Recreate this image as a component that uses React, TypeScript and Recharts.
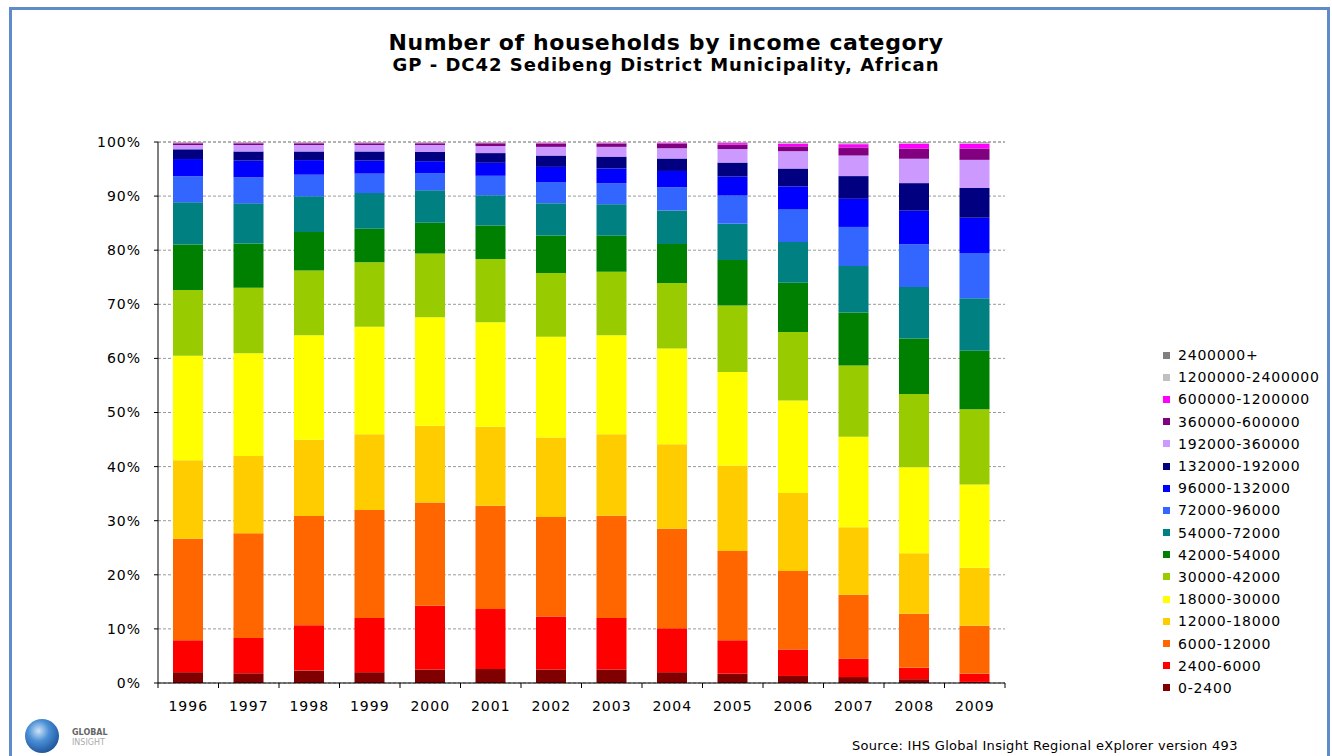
import { BarChart, Bar, XAxis, YAxis, CartesianGrid } from 'recharts'

const years = ['1996', '1997', '1998', '1999', '2000', '2001', '2002', '2003', '2004', '2005', '2006', '2007', '2008', '2009']

const incomeBands = [
  '0-2400', '2400-6000', '6000-12000', '12000-18000', '18000-30000', '30000-42000',
  '42000-54000', '54000-72000', '72000-96000', '96000-132000', '132000-192000',
  '192000-360000', '360000-600000', '600000-1200000', '1200000-2400000', '2400000+',
]

const bandColors = [
  '#800000', '#ff0000', '#ff6600', '#ffcc00', '#ffff00', '#99cc00',
  '#008000', '#008080', '#3366ff', '#0000ff', '#000080',
  '#cc99ff', '#800080', '#ff00ff', '#c0c0c0', '#808080',
]

// share of households (%) in each band, per year
const inc0to2400 = [2.0, 1.8, 2.3, 2.0, 2.5, 2.6, 2.5, 2.5, 2.0, 1.7, 1.3, 1.1, 0.7, 0.2]
const inc2400to6000 = [5.9, 6.5, 8.4, 10.0, 11.8, 11.1, 9.8, 9.5, 8.1, 6.2, 4.9, 3.4, 2.1, 1.5]
const inc6000to12000 = [18.8, 19.4, 20.2, 20.0, 19.1, 19.1, 18.4, 18.9, 18.4, 16.5, 14.5, 11.8, 10.0, 8.9]
const inc12000to18000 = [14.5, 14.3, 14.1, 14.0, 14.2, 14.6, 14.7, 15.1, 15.6, 15.8, 14.4, 12.5, 11.2, 10.7]
const inc18000to30000 = [19.3, 19.0, 19.3, 19.9, 20.1, 19.3, 18.6, 18.3, 17.7, 17.3, 17.1, 16.7, 15.9, 15.4]
const inc30000to42000 = [12.2, 12.1, 12.0, 11.9, 11.8, 11.7, 11.8, 11.7, 12.1, 12.3, 12.7, 13.2, 13.5, 13.9]
const inc42000to54000 = [8.4, 8.2, 7.1, 6.2, 5.7, 6.2, 6.9, 6.7, 7.2, 8.4, 9.1, 9.8, 10.3, 10.8]
const inc54000to72000 = [7.8, 7.4, 6.6, 6.6, 6.0, 5.6, 6.0, 5.8, 6.2, 6.7, 7.5, 8.6, 9.5, 9.7]
const inc72000to96000 = [4.8, 4.8, 4.0, 3.6, 3.2, 3.6, 3.9, 3.9, 4.3, 5.2, 6.1, 7.2, 7.9, 8.4]
const inc96000to132000 = [3.2, 3.1, 2.7, 2.4, 2.2, 2.4, 2.8, 2.7, 3.0, 3.5, 4.2, 5.2, 6.2, 6.5]
const inc132000to192000 = [1.8, 1.7, 1.6, 1.7, 1.7, 1.8, 2.1, 2.2, 2.3, 2.6, 3.3, 4.2, 5.1, 5.5]
const inc192000to360000 = [0.8, 1.2, 1.2, 1.2, 1.3, 1.3, 1.6, 1.8, 1.9, 2.5, 3.2, 3.8, 4.5, 5.2]
const inc360000to600000 = [0.3, 0.3, 0.3, 0.3, 0.3, 0.5, 0.6, 0.6, 0.8, 0.8, 0.9, 1.5, 1.9, 2.1]
const inc600000to1200000 = [0.05, 0.05, 0.05, 0.05, 0.05, 0.05, 0.1, 0.1, 0.15, 0.3, 0.5, 0.6, 0.9, 0.9]
const inc1200000to2400000 = [0.15, 0.15, 0.15, 0.15, 0.15, 0.15, 0.15, 0.15, 0.15, 0.15, 0.2, 0.3, 0.2, 0.2]
const inc2400000plus = [0.05, 0.05, 0.05, 0.05, 0.05, 0.05, 0.05, 0.05, 0.05, 0.05, 0.1, 0.1, 0.1, 0.1]

const yTicks = [0, 10, 20, 30, 40, 50, 60, 70, 80, 90, 100]

const shares = [
  inc0to2400, inc2400to6000, inc6000to12000, inc12000to18000, inc18000to30000,
  inc30000to42000, inc42000to54000, inc54000to72000, inc72000to96000, inc96000to132000,
  inc132000to192000, inc192000to360000, inc360000to600000, inc600000to1200000,
  inc1200000to2400000, inc2400000plus,
]

// scale each year so the bands add up to exactly 100%
const data = years.map((year, i) => {
  const total = shares.reduce((s, arr) => s + arr[i], 0)
  const row: Record<string, string | number> = { year }
  incomeBands.forEach((_, j) => {
    row[`b${j}`] = (shares[j][i] / total) * 100
  })
  return row
})

const PLOT_LEFT = 158
const PLOT_RIGHT = 1005
const PLOT_TOP = 142
const PLOT_BOTTOM = 683
const step = (PLOT_RIGHT - PLOT_LEFT) / years.length

// eslint-disable-next-line @typescript-eslint/no-explicit-any
function YearTick(props: any) {
  const { x, payload, index } = props
  return (
    <g>
      <line x1={x - step / 2} x2={x - step / 2} y1={PLOT_BOTTOM} y2={PLOT_BOTTOM + 5} stroke="#000" />
      {index === years.length - 1 && (
        <line x1={x + step / 2} x2={x + step / 2} y1={PLOT_BOTTOM} y2={PLOT_BOTTOM + 5} stroke="#000" />
      )}
      <text x={x} y={PLOT_BOTTOM + 28} textAnchor="middle" fontSize={14} letterSpacing={1} fill="#000">
        {payload.value}
      </text>
    </g>
  )
}

export default function App() {
  const legendItems = incomeBands.map((name, j) => ({ name, color: bandColors[j] })).reverse()

  return (
    <div
      style={{
        position: 'absolute', left: 0, top: 0, width: 1332, height: 756, overflow: 'hidden',
        background: '#fff', fontFamily: '"DejaVu Sans", Verdana, sans-serif', color: '#000',
      }}
    >
      <div
        style={{
          position: 'absolute', left: 9, top: 7, width: 1321, height: 800,
          border: '3px solid #5f8bc8', boxSizing: 'border-box',
        }}
      />
      <div style={{ position: 'absolute', left: 0, width: 1332, top: 30, textAlign: 'center', fontWeight: 'bold', fontSize: 22, letterSpacing: 0.6 }}>
        Number of households by income category
      </div>
      <div style={{ position: 'absolute', left: 0, width: 1332, top: 54, textAlign: 'center', fontWeight: 'bold', fontSize: 18, letterSpacing: 1 }}>
        GP - DC42 Sedibeng District Municipality, African
      </div>

      <div style={{ position: 'absolute', left: 0, top: 0 }}>
        <BarChart
          width={1332}
          height={756}
          data={data}
          barSize={30}
          margin={{ top: PLOT_TOP, right: 1332 - PLOT_RIGHT, bottom: 756 - PLOT_BOTTOM - 30, left: PLOT_LEFT - 60 }}
        >
          <CartesianGrid vertical={false} stroke="#999" strokeDasharray="3 2" />
          <XAxis
            dataKey="year"
            height={30}
            tickLine={false}
            axisLine={{ stroke: '#000' }}
            tick={(p) => <YearTick {...p} />}
            interval={0}
          />
          <YAxis
            width={60}
            domain={[0, 100]}
            ticks={yTicks}
            tickFormatter={(v: number) => `${v}%`}
            tickSize={4}
            tickMargin={13}
            tickLine={{ stroke: '#000' }}
            axisLine={{ stroke: '#000' }}
            tick={{ fill: '#000', fontSize: 14, letterSpacing: 1 }}
          />
          {incomeBands.map((name, j) => (
            <Bar key={name} name={name} dataKey={`b${j}`} stackId="a" fill={bandColors[j]} isAnimationActive={false} />
          ))}
        </BarChart>
      </div>

      <div style={{ position: 'absolute', left: 1163, top: 344 }}>
        {legendItems.map((item) => (
          <div key={item.name} style={{ display: 'flex', alignItems: 'center', height: 22.2 }}>
            <span style={{ width: 7, height: 7, background: item.color, marginRight: 8, flex: 'none' }} />
            <span style={{ fontSize: 14, letterSpacing: 0.8, whiteSpace: 'nowrap' }}>{item.name}</span>
          </div>
        ))}
      </div>

      <div
        style={{
          position: 'absolute', left: 25, top: 719, width: 34, height: 34, borderRadius: '50%',
          background: 'radial-gradient(circle at 40% 35%, #cfe3f7 0%, #4a8fd6 35%, #1b4f96 80%)',
        }}
      />
      <div style={{ position: 'absolute', left: 72, top: 728, fontSize: 8, fontWeight: 'bold', color: '#666', lineHeight: '10px' }}>
        GLOBAL
        <br />
        <span style={{ fontWeight: 'normal', color: '#aaa' }}>INSIGHT</span>
      </div>
      <div style={{ position: 'absolute', left: 852, top: 738, fontSize: 13, letterSpacing: 0.3, whiteSpace: 'nowrap' }}>
        Source: IHS Global Insight Regional eXplorer version 493
      </div>
    </div>
  )
}
